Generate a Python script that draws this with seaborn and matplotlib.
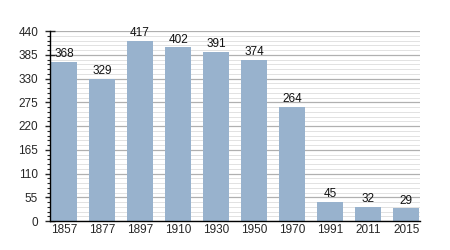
import matplotlib
matplotlib.use("Agg")
import matplotlib.pyplot as plt
import seaborn as sns
import pandas as pd
from matplotlib.ticker import MultipleLocator

years = ["1857", "1877", "1897", "1910", "1930", "1950", "1970", "1991", "2011", "2015"]
population = [368, 329, 417, 402, 391, 374, 264, 45, 32, 29]
yticks = [0, 55, 110, 165, 220, 275, 330, 385, 440]

df = pd.DataFrame({"year": years, "pop": population})

sns.set_style("white")
plt.rcParams['font.family'] = ['Liberation Sans', 'DejaVu Sans']
fig = plt.figure(figsize=(4.5, 2.5), dpi=100)
ax = fig.add_axes([50/450, 1-221/250, 370/450, 190/250])

sns.barplot(data=df, x="year", y="pop", color="#98b2cd", saturation=1, width=0.68, ax=ax, zorder=1)

ax.set_ylim(0, 440)
ax.set_xlim(-0.37, 9.36)
ax.set_yticks(yticks)
ax.yaxis.set_minor_locator(MultipleLocator(11))
ax.grid(axis="y", which="major", color="#b0b0b0", linewidth=0.9)
ax.grid(axis="y", which="minor", color="#e2e2e2", linewidth=0.7)
ax.set_axisbelow(True)
for b in ax.patches:
    b.set_edgecolor("none")

for i, v in enumerate(population):
    ax.text(i, v + 4, str(v), ha="center", va="bottom", fontsize=8.5, color="#111111")

for s in ["top", "right"]:
    ax.spines[s].set_visible(False)
for s in ["left", "bottom"]:
    ax.spines[s].set_color("black")
    ax.spines[s].set_linewidth(1)
    ax.spines[s].set_zorder(5)
ax.tick_params(axis="y", which="major", direction="inout", length=7, width=1, labelsize=8.5, left=True, pad=5)
ax.tick_params(axis="y", which="minor", direction="out", length=2.5, width=0.8, left=True)
ax.tick_params(axis="x", length=0, labelsize=8.5, pad=2)
ax.set_xlabel("")
ax.set_ylabel("")

fig.savefig("out.png", dpi=100)
